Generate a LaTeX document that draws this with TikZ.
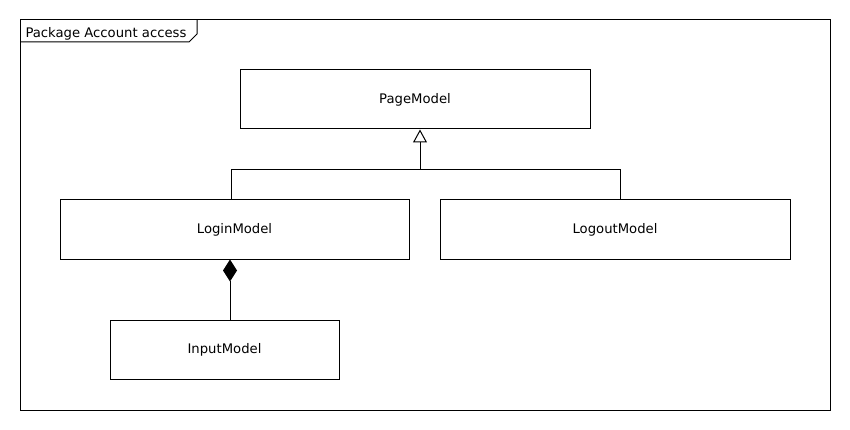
\documentclass[tikz,border=0pt]{standalone}
\usepackage{fontspec}
\setmainfont{DejaVu Sans}
\usetikzlibrary{arrows.meta}
\begin{document}
\begin{tikzpicture}[x=1pt,y=-1pt,line width=1pt,
  lbl/.style={font=\fontsize{13.2}{15}\selectfont},
  cls/.style={draw=black,fill=white,minimum width=#1,minimum height=59pt,inner sep=0pt,lbl},
  gen/.style={-{Triangle[open,width=14pt,length=13pt]}},
  comp/.style={-{Diamond[fill=black,width=14pt,length=22pt]}}]
\useasboundingbox (0,0) rectangle (850,430);
\fill[white] (0,0) rectangle (850,430);
% package frame
\draw (20,20) rectangle (830,410);
\draw (20,42) -- (189,42) -- (197,34) -- (197,20);
\node[anchor=base west,inner sep=0pt,lbl] (pkg) at (25,38) {Package Account access};
% classes
\node[cls=350pt] (page) at (415,99.5) {PageModel};
\node[cls=349pt] (login) at (234.5,229.5) {LoginModel};
\node[cls=350pt] (logout) at (615,229.5) {LogoutModel};
\node[cls=229pt] (input) at (224.5,349.5) {InputModel};
% generalization
\coordinate (j) at (420,170);
\coordinate (lx) at (231,0);
\coordinate (rx) at (620,0);
\coordinate (dx) at (230,0);
\draw[gen] (login.north -| lx) |- (j) -- (page.south -| j);
\draw (logout.north -| rx) |- (j);
% composition
\draw[comp] (input.north -| dx) -- (login.south -| dx);
\end{tikzpicture}
\end{document}
